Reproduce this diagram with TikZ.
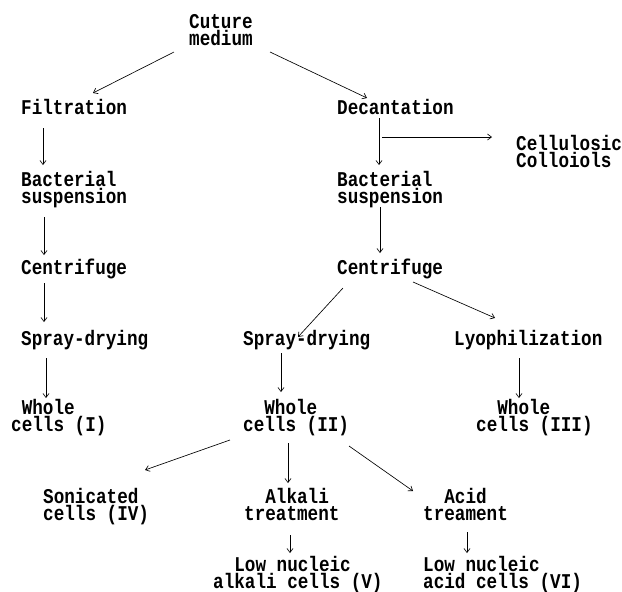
\documentclass[tikz,border=0pt]{standalone}
\usepackage{fontspec}
\setmainfont{Liberation Mono}[FakeStretch=0.84]
\usetikzlibrary{arrows.meta}
\tikzset{
  lbl/.style={anchor=base west, inner sep=0pt, font=\fontsize{21}{17}\selectfont\bfseries},
  arr/.style={line width=0.65pt, -{Straight Barb[length=4pt,width=6pt]}}
}
\newcommand{\lead}[1]{\phantom{#1}}
\newcommand{\twol}[2]{\vtop{\lineskiplimit=-30pt\hbox{#1}\hbox{#2}}}
\begin{document}
\begin{tikzpicture}[x=1pt,y=-1pt]
\useasboundingbox[fill=white] (0,0) rectangle (622,592);
\node[lbl] (cult) at (189,28) {\twol{Cuture}{medium}};
\node[lbl] (filt) at (21,114) {Filtration};
\node[lbl] (dec) at (337,114) {Decantation};
\node[lbl] (cell) at (516,150) {\twol{Cellulosic}{Colloiols}};
\node[lbl] (bacL) at (21,186) {\twol{Bacterial}{suspension}};
\node[lbl] (bacR) at (337,186) {\twol{Bacterial}{suspension}};
\node[lbl] (cenL) at (21,274) {Centrifuge};
\node[lbl] (cenR) at (337,274) {Centrifuge};
\node[lbl] (sprL) at (21,345) {Spray-drying};
\node[lbl] (sprM) at (243,345) {Spray-drying};
\node[lbl] (lyo) at (454,345) {Lyophilization};
\node[lbl] (wL) at (11,414) {\twol{\lead{x}Whole}{cells (I)}};
\node[lbl] (wM) at (243,414) {\twol{\lead{xx}Whole}{cells (II)}};
\node[lbl] (wR) at (476,414) {\twol{\lead{xx}Whole}{cells (III)}};
\node[lbl] (son) at (43,503) {\twol{Sonicated}{cells (IV)}};
\node[lbl] (alk) at (244,503) {\twol{\lead{xx}Alkali}{treatment}};
\node[lbl] (acid) at (423,503) {\twol{\lead{xx}Acid}{treament}};
\node[lbl] (lowA) at (213,571) {\twol{\lead{xx}Low nucleic}{alkali cells (V)}};
\node[lbl] (lowB) at (423,571) {\twol{Low nucleic}{acid cells (VI)}};

\draw[arr] ([shift={(-15,24)}]cult.base west) -- ([shift={(72,-21)}]filt.base west);
\draw[arr] ([shift={(81,24)}]cult.base west) -- ([shift={(30,-16)}]dec.base west);
\draw[arr] ([shift={(42,4)}]dec.base west) -- ([shift={(42,-21)}]bacR.base west);
\draw[arr] ([shift={(45,23)}]dec.base west) -- ([shift={(-24,-13)}]cell.base west);
\draw[arr] ([shift={(22,14)}]filt.base west) -- ([shift={(22,-21)}]bacL.base west);
\draw[arr] ([shift={(23,31)}]bacL.base west) -- ([shift={(23,-19)}]cenL.base west);
\draw[arr] ([shift={(23,9)}]cenL.base west) -- ([shift={(23,-23)}]sprL.base west);
\draw[arr] ([shift={(25,13)}]sprL.base west) -- ([shift={(35,-16)}]wL.base west);
\draw[arr] ([shift={(43,21)}]bacR.base west) -- ([shift={(43,-21)}]cenR.base west);
\draw[arr] ([shift={(6,14)}]cenR.base west) -- ([shift={(55,-8)}]sprM.base west);
\draw[arr] ([shift={(76,8)}]cenR.base west) -- ([shift={(41,-27)}]lyo.base west);
\draw[arr] ([shift={(38,8)}]sprM.base west) -- ([shift={(38,-22)}]wM.base west);
\draw[arr] ([shift={(65,13)}]lyo.base west) -- ([shift={(43,-16)}]wR.base west);
\draw[arr] ([shift={(-13,26)}]wM.base west) -- ([shift={(102,-33)}]son.base west);
\draw[arr] ([shift={(45,29)}]wM.base west) -- ([shift={(44,-20)}]alk.base west);
\draw[arr] ([shift={(106,32)}]wM.base west) -- ([shift={(-10,-12)}]acid.base west);
\draw[arr] ([shift={(46,32)}]alk.base west) -- ([shift={(77,-18)}]lowA.base west);
\draw[arr] ([shift={(44,29)}]acid.base west) -- ([shift={(44,-18)}]lowB.base west);
\end{tikzpicture}
\end{document}
